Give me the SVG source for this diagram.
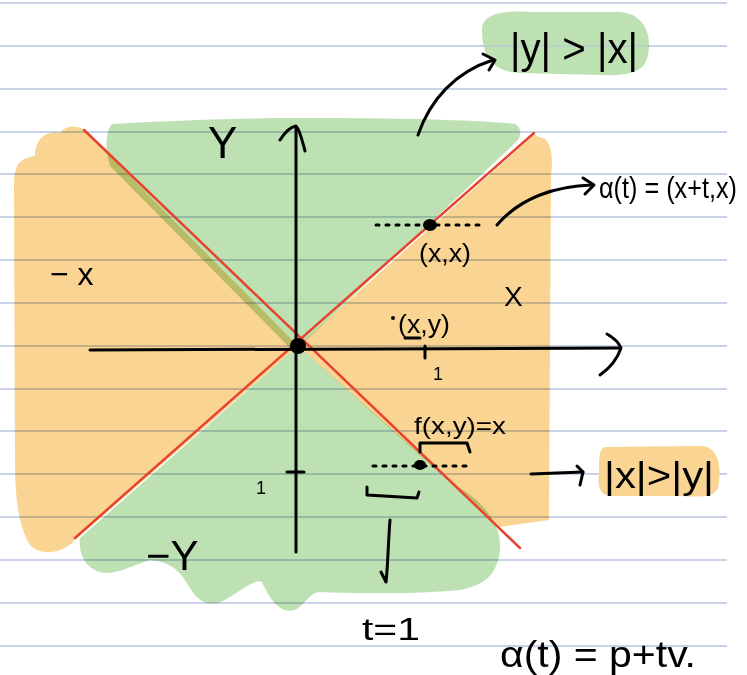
<svg xmlns="http://www.w3.org/2000/svg" width="747" height="675" viewBox="0 0 747 675">
<style>
.rule{stroke:#b6c4df;stroke-width:1.5}
.fillO{fill:#fad492;mix-blend-mode:multiply}
.fillG{fill:#bde1b2;mix-blend-mode:multiply}
.red{stroke:#e8432d;stroke-width:2.5;fill:none;stroke-linecap:round}
.ink{stroke:#000;stroke-width:3;fill:none;stroke-linecap:round;stroke-linejoin:round}
.dots{stroke:#000;stroke-width:3;fill:none;stroke-linecap:round;stroke-dasharray:3 7}
.t{font-family:"Liberation Sans","DejaVu Sans",sans-serif;fill:#000}
</style>
<rect width="747" height="675" fill="#fff"/>
<g id="ruling">
<line class="rule" x1="0" y1="3" x2="727" y2="3"/>
<line class="rule" x1="0" y1="46" x2="727" y2="46"/>
<line class="rule" x1="0" y1="89" x2="727" y2="89"/>
<line class="rule" x1="0" y1="132" x2="727" y2="132"/>
<line class="rule" x1="0" y1="174" x2="727" y2="174"/>
<line class="rule" x1="0" y1="217" x2="727" y2="217"/>
<line class="rule" x1="0" y1="260" x2="727" y2="260"/>
<line class="rule" x1="0" y1="303" x2="727" y2="303"/>
<line class="rule" x1="0" y1="346" x2="727" y2="346"/>
<line class="rule" x1="0" y1="389" x2="727" y2="389"/>
<line class="rule" x1="0" y1="431" x2="727" y2="431"/>
<line class="rule" x1="0" y1="474" x2="727" y2="474"/>
<line class="rule" x1="0" y1="517" x2="727" y2="517"/>
<line class="rule" x1="0" y1="560" x2="727" y2="560"/>
<line class="rule" x1="0" y1="603" x2="727" y2="603"/>
<line class="rule" x1="0" y1="646" x2="727" y2="646"/>
</g>
<g id="regions">
<path class="fillO" d="M84,130 L298,346 L75,540 C60,556 36,556 28,542 C18,522 16,500 15,470 L14,185 C14,165 20,158 35,156 C35,140 45,130 60,133 C66,125 78,125 84,130 Z"/>
<path class="fillO" d="M298,346 L534,135 L545,139 C552,145 553,160 551,176 L549,520 L500,527 Z"/>
<path class="fillG" d="M112,124 C180,120 250,118 300,118 C400,118 480,120 515,124 C522,128 522,136 516,142 L300,346 L292,350 L110,166 C105,150 105,132 112,124 Z"/>
<path class="fillG" d="M298,346 L80,538 C78,552 85,568 100,572 C115,576 130,566 150,560 C170,562 180,570 190,588 C198,602 210,608 225,600 C240,592 255,578 262,582 C270,600 280,614 295,610 C305,605 310,592 320,592 C360,594 420,594 460,590 C485,585 497,575 500,550 C502,530 490,512 474,498 C462,488 448,482 438,470 Z"/>
<path fill="#bde1b2" d="M482,30 C482,15 500,10 530,12 L620,12 C645,14 652,35 648,55 C645,72 630,76 600,75 L520,73 C492,72 482,55 482,30 Z"/>
<path fill="#fad492" d="M605,447 L700,446 C720,446 722,470 718,488 C714,498 700,497 680,496 L610,496 C598,494 598,485 599,470 C599,455 600,448 605,447 Z"/>
<line class="rule" x1="482" y1="46" x2="650" y2="46" opacity="0.7"/>
</g>
<g id="diagonals">
<line class="red" x1="84" y1="130" x2="520" y2="548"/>
<line class="red" x1="75" y1="538" x2="534" y2="133"/>
</g>
<g id="axes">
<path class="ink" d="M296,552 L296,128"/>
<path class="ink" d="M280,140 C285,132 290,127 296,126 C300,130 302,140 305,151"/>
<path class="ink" d="M90,350 L620,348"/>
<path class="ink" d="M607,334 C614,338 619,343 621,348 C617,360 610,368 600,375"/>
<path class="ink" d="M425,346 L425,358"/>
<path class="ink" d="M287,472 L304,472"/>
<circle cx="298" cy="346" r="8" fill="#000"/>
</g>
<g id="point-xx">
<path class="dots" d="M376,225 L480,225"/>
<ellipse cx="430" cy="225" rx="7" ry="6" fill="#000"/>
<text class="t" x="419" y="262" font-size="25" textLength="52" lengthAdjust="spacingAndGlyphs">(x,x)</text>
</g>
<g id="point-xy">
<circle cx="393" cy="318" r="2" fill="#000"/>
<text class="t" x="398" y="333" font-size="26" textLength="52" lengthAdjust="spacingAndGlyphs">(x,y)</text>
<path class="ink" stroke-width="2" d="M405,338 L420,338"/>
<text class="t" x="433" y="380" font-size="18">1</text>
</g>
<g id="point-f">
<path class="dots" d="M373,466 L472,466"/>
<ellipse cx="420" cy="465" rx="6" ry="5" fill="#000"/>
<text class="t" x="414" y="434" font-size="24" textLength="92" lengthAdjust="spacingAndGlyphs">f(x,y)=x</text>
<path class="ink" d="M420,452 L420,443 L467,443 L470,452"/>
<path class="ink" d="M367,487 L367,495 L417,498 L419,492"/>
</g>
<g id="label-ygtx"><text class="t" x="510" y="63" font-size="42" textLength="128" lengthAdjust="spacingAndGlyphs">|y| &gt; |x|</text></g>
<g id="label-xgty"><text class="t" x="604" y="488" font-size="36" textLength="110" lengthAdjust="spacingAndGlyphs">|x|&gt;|y|</text></g>
<g id="label-alpha"><text class="t" transform="translate(599,198) scale(1,1.15)" x="0" y="0" font-size="25" textLength="138" lengthAdjust="spacingAndGlyphs">α(t) = (x+t,x)</text></g>
<g id="label-Y"><text class="t" x="208" y="158" font-size="44">Y</text></g>
<g id="label-negx"><text class="t" x="50" y="285" font-size="32">− x</text></g>
<g id="label-X"><text class="t" x="504" y="306" font-size="28">X</text></g>
<g id="label-negY"><text class="t" x="146" y="570" font-size="42">−Y</text></g>
<g id="label-1y"><text class="t" x="256" y="494" font-size="18">1</text></g>
<g id="label-t1"><text class="t" x="362" y="640" font-size="32" textLength="58" lengthAdjust="spacingAndGlyphs">t=1</text></g>
<g id="label-line"><text class="t" x="500" y="667" font-size="36" textLength="196" lengthAdjust="spacingAndGlyphs">α(t) = p+tv.</text></g>
<g id="connectors">
<path class="ink" d="M418,135 C430,100 455,72 493,60"/>
<path class="ink" d="M483,54 L495,60 L489,70"/>
<path class="ink" d="M497,225 C520,198 555,186 592,185"/>
<path class="ink" d="M583,178 L594,185 L585,194"/>
<path class="ink" d="M531,474 L583,472"/>
<path class="ink" d="M577,466 L583,472 L580,485"/>
<path class="ink" d="M390,520 C388,545 388,565 386,582 L381,572"/>
</g>
</svg>
